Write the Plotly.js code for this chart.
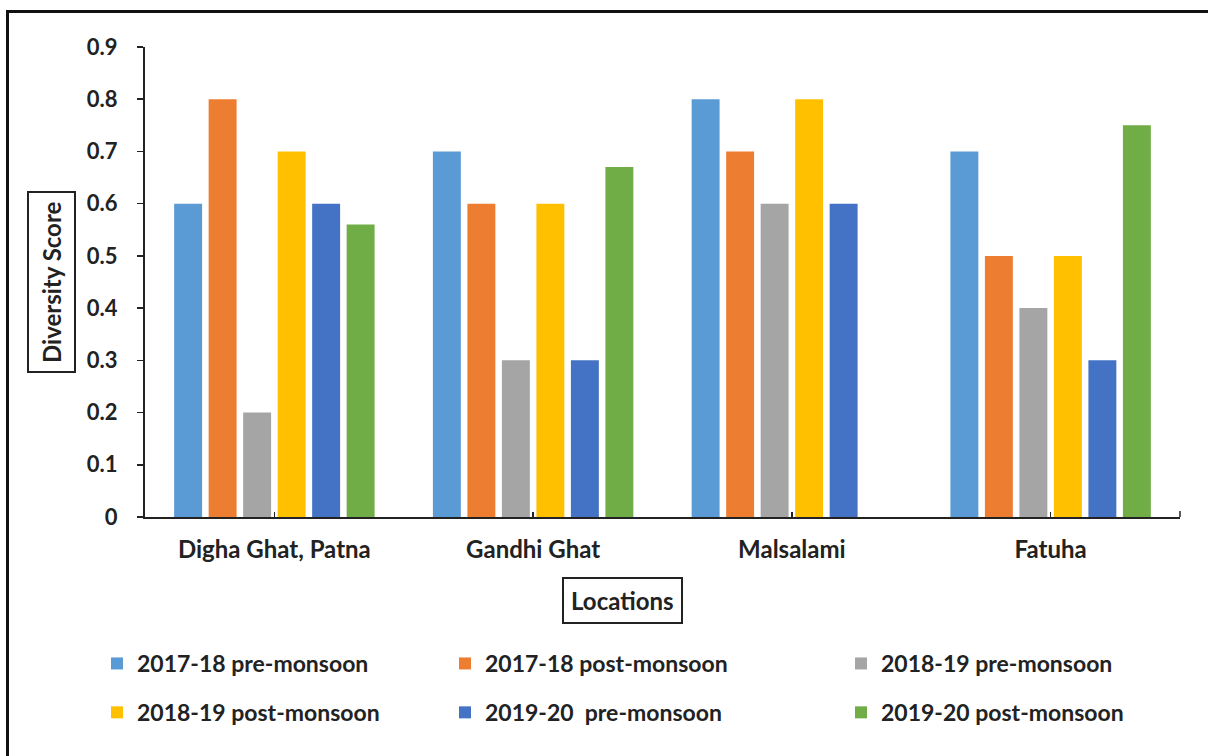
<!DOCTYPE html>
<html>
<head>
<meta charset="utf-8">
<script src="https://cdn.plot.ly/plotly-3.0.1.min.js"></script>
<style>
  html, body { margin: 0; padding: 0; background: #fff; }
  #wrap { position: relative; width: 1208px; height: 756px; overflow: hidden; }
  #chart { position: absolute; left: 0; top: 0; width: 1208px; height: 756px; }
  #frame { position: absolute; left: 6px; top: 10px; width: 1300px; height: 900px;
           border-top: 3px solid #111; border-left: 3px solid #111; pointer-events: none; }
</style>
</head>
<body>
<div id="wrap">
  <div id="chart"></div>
  <div id="frame"></div>
</div>
<script>
// ---- data ----
const locations = ["Digha Ghat, Patna", "Gandhi Ghat", "Malsalami", "Fatuha"];
const seriesNames = [
  "2017-18 pre-monsoon",
  "2017-18 post-monsoon",
  "2018-19 pre-monsoon",
  "2018-19 post-monsoon",
  "2019-20 \u00a0pre-monsoon",
  "2019-20 post-monsoon"
];
const pre1718  = [0.6, 0.7, 0.8, 0.7];
const post1718 = [0.8, 0.6, 0.7, 0.5];
const pre1819  = [0.2, 0.3, 0.6, 0.4];
const post1819 = [0.7, 0.6, 0.8, 0.5];
const pre1920  = [0.6, 0.3, 0.6, 0.3];
const post1920 = [0.56, 0.67, null, 0.75];
const seriesValues = [pre1718, post1718, pre1819, post1819, pre1920, post1920];
const seriesColors = ["#5B9BD5", "#ED7D31", "#A5A5A5", "#FFC000", "#4472C4", "#70AD47"];
const yTickVals = [0, 0.1, 0.2, 0.3, 0.4, 0.5, 0.6, 0.7, 0.8, 0.9];
const yTickText = ["0", "0.1", "0.2", "0.3", "0.4", "0.5", "0.6", "0.7", "0.8", "0.9"];

// ---- layout helpers ----
const FONT = "Lato, 'Open Sans', sans-serif";
const L = 145, R = 1180, T = 47, B = 517;
const W = R - L, H = B - T;
const px2x = p => (p - L) / W;
const px2y = p => (B - p) / H;
const legendFor = [ "legend", "legend2", "legend3", "legend", "legend2", "legend3" ];

const traces = seriesNames.map((name, i) => ({
  type: "bar",
  name: name,
  x: locations,
  y: seriesValues[i],
  marker: { color: seriesColors[i], line: { width: 0 } },
  legend: legendFor[i],
  legendgroup: "g" + i,
  hoverinfo: "x+y+name"
}));

function legendAt(textLeftPx, topPx) {
  return {
    x: px2x(textLeftPx - 37), xanchor: "left",
    y: px2y(topPx), yanchor: "top",
    orientation: "v",
    bgcolor: "rgba(0,0,0,0)",
    borderwidth: 0,
    tracegroupgap: 16,
    font: { family: FONT, size: 23, color: "#222", weight: 700 }
  };
}

const layout = {
  width: 1208, height: 756,
  margin: { l: L, r: 1208 - R, t: T, b: 756 - B },
  paper_bgcolor: "#fff", plot_bgcolor: "#fff",
  barmode: "group",
  bargap: 0.2,
  bargroupgap: 0.19,
  font: { family: FONT, color: "#222" },
  showlegend: true,
  xaxis: {
    type: "category",
    showline: true, linecolor: "#222", linewidth: 2,
    ticks: "inside", ticklen: 5, tickwidth: 1.5, tickcolor: "#222",
    ticklabelstandoff: 10,
    tickfont: { family: FONT, size: 24, color: "#222", weight: 700 },
    showgrid: false, zeroline: false
  },
  yaxis: {
    range: [0, 0.9],
    tickmode: "array", tickvals: yTickVals, ticktext: yTickText,
    showline: true, linecolor: "#222", linewidth: 2,
    ticks: "outside", ticklen: 6, tickwidth: 1.5, tickcolor: "#222",
    ticklabelstandoff: 15,
    tickfont: { family: FONT, size: 22, color: "#222", weight: 700 },
    showgrid: false, zeroline: false
  },
  legend: legendAt(134, 642),
  legend2: legendAt(482, 642),
  legend3: legendAt(878, 642),
  annotations: [
    {
      text: "Diversity Score", textangle: -90,
      xref: "paper", yref: "paper",
      x: px2x(51), y: px2y(282), xanchor: "center", yanchor: "middle",
      showarrow: false,
      font: { family: FONT, size: 24, color: "#222", weight: 700 },
      bordercolor: "#222", borderwidth: 2, borderpad: 8, bgcolor: "#fff"
    },
    {
      text: "Locations",
      xref: "paper", yref: "paper",
      x: px2x(622), y: px2y(600), xanchor: "center", yanchor: "middle",
      showarrow: false,
      font: { family: FONT, size: 24, color: "#222", weight: 700 },
      bordercolor: "#222", borderwidth: 2, borderpad: 7, bgcolor: "#fff"
    }
  ],
  shapes: [
    { type: "line", xref: "paper", yref: "paper", x0: 1, x1: 1, y0: 0, y1: 6 / H,
      line: { color: "#222", width: 1.5 } }
  ]
};

Plotly.newPlot("chart", traces, layout, { displayModeBar: false, staticPlot: true });
</script>
</body>
</html>
